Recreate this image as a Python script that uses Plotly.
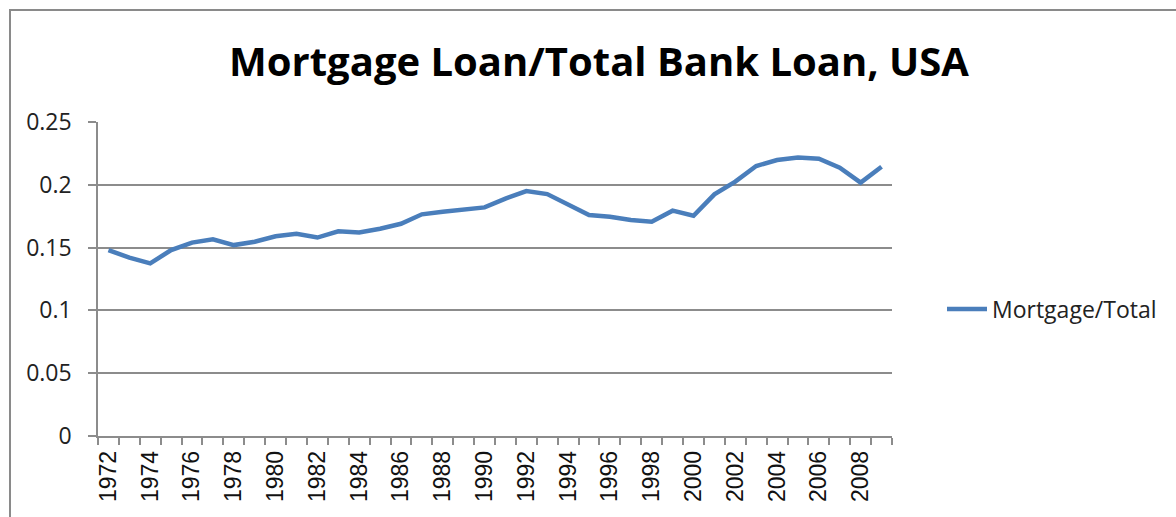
import plotly.graph_objects as go

# Years (categories) and mortgage loans as a share of total bank loans
years = list(range(1972, 2010))
mortgage_share = [
    0.148, 0.142, 0.1375, 0.148, 0.154, 0.1566, 0.152, 0.1547, 0.159, 0.161,
    0.158, 0.163, 0.162, 0.165, 0.169, 0.1765, 0.1786, 0.180, 0.182, 0.189,
    0.195, 0.1926, 0.1847, 0.176, 0.1746, 0.172, 0.1706, 0.1794, 0.1754, 0.1924,
    0.2025, 0.215, 0.2197, 0.2218, 0.2208, 0.2136, 0.2017, 0.2144,
]
year_labels = [str(y) for y in range(1972, 2010, 2)]
y_ticks = [0, 0.05, 0.1, 0.15, 0.2, 0.25]
y_tick_text = ["0", "0.05", "0.1", "0.15", "0.2", "0.25"]

W, H = 1176, 517
L, R, T, B = 98, 284, 122, 81
plot_w, plot_h = W - L - R, H - T - B

fig = go.Figure()
fig.add_trace(go.Scatter(
    x=years, y=mortgage_share, mode="lines", name="Mortgage/Total",
    line=dict(color="#4A7EBB", width=4.5),
))

grid = "#8c8c8c"
fig.update_layout(
    width=W, height=H,
    margin=dict(l=L, r=R, t=T, b=B, pad=0),
    paper_bgcolor="white", plot_bgcolor="white",
    title=dict(
        text="<b>Mortgage Loan/Total Bank Loan, USA</b>",
        x=(228 + 970) / 2 / W, xref="container", xanchor="center",
        y=1 - 62 / H, yref="container", yanchor="middle",
        font=dict(family="Open Sans", size=40, color="#000000"),
    ),
    showlegend=True,
    legend=dict(
        x=(942 - L) / plot_w, xanchor="left",
        y=(436 - 309) / plot_h, yanchor="middle",
        font=dict(family="Open Sans", size=23, color="#222222"),
        bgcolor="rgba(0,0,0,0)", itemwidth=40,
    ),
    xaxis=dict(
        range=[1971.5, 2009.5],
        tickmode="array",
        tickvals=list(range(1972, 2010, 2)),
        ticktext=year_labels,
        tickangle=-90,
        ticks="",
        tickfont=dict(family="Liberation Sans", size=23, color="#111111"),
        showgrid=False, zeroline=False,
        showline=True, linecolor=grid, linewidth=1.5,
        minor=dict(tickmode="linear", tick0=1971.5, dtick=1,
                   ticks="outside", ticklen=7, tickcolor=grid, tickwidth=1.5,
                   showgrid=False),
        ticklabelstandoff=4,
    ),
    yaxis=dict(
        range=[0, 0.25],
        tickmode="array", tickvals=y_ticks, ticktext=y_tick_text,
        ticks="outside", ticklen=8, tickcolor=grid, tickwidth=1.5,
        tickfont=dict(family="Open Sans", size=23, color="#222222"),
        showgrid=True, gridcolor=grid, gridwidth=1.5,
        zeroline=False,
        showline=True, linecolor=grid, linewidth=1.5,
        ticklabelstandoff=12,
    ),
    shapes=[dict(
        type="rect", xref="paper", yref="paper", layer="above",
        x0=(10 - L) / plot_w, x1=(W + 20 - L) / plot_w,
        y0=(436 - (H + 20)) / plot_h, y1=(436 - 10) / plot_h,
        line=dict(color="#8a8a8a", width=2), fillcolor="rgba(0,0,0,0)",
    )],
)

fig.write_html("out.html")
